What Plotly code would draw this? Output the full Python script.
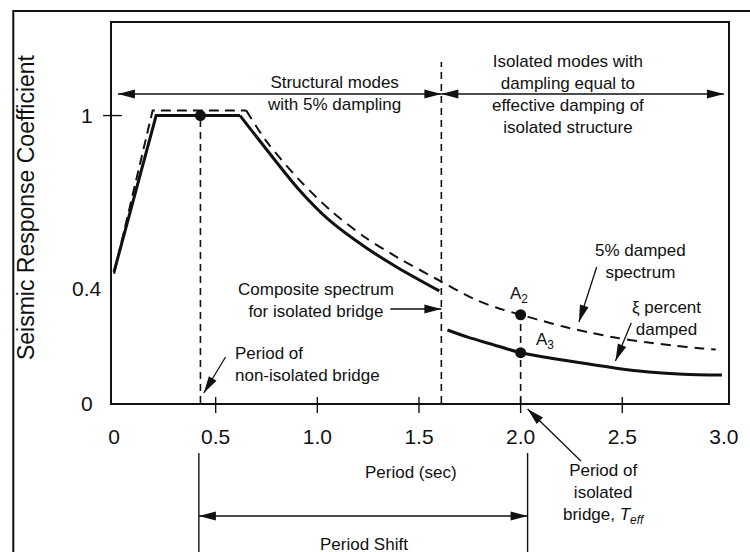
import math
import plotly.graph_objects as go

# ---------------- data ----------------
T_COMPOSITE = [0.0, 0.207, 0.62, 0.75, 0.91, 1.06, 1.24, 1.40, 1.60]
CS_COMPOSITE = [0.456, 1.0, 1.0, 0.882, 0.742, 0.635, 0.54, 0.469, 0.39]

T_5PCT = [0.0, 0.19, 0.65, 0.75, 0.91, 1.07, 1.24, 1.40, 1.58, 1.77, 1.88, 2.0,
          2.08, 2.21, 2.34, 2.47, 2.62, 2.75, 2.89, 2.96]
CS_5PCT = [0.45, 1.018, 1.018, 0.91, 0.777, 0.667, 0.574, 0.504, 0.434, 0.362,
           0.332, 0.307, 0.291, 0.266, 0.245, 0.227, 0.211, 0.200, 0.190, 0.186]

T_ISOLATED = [1.64, 1.74, 1.87, 2.0, 2.15, 2.31, 2.47, 2.63, 2.80, 2.99]
CS_ISOLATED = [0.254, 0.229, 0.202, 0.175, 0.156, 0.138, 0.121, 0.108, 0.100, 0.097]

T_NON_ISOLATED = 0.425
T_SPLIT = 1.61
T_EFF = 2.0
CS_PLATEAU = 1.0
CS_A2 = 0.307
CS_A3 = 0.175

X_TICKS = [0, 0.5, 1.0, 1.5, 2.0, 2.5, 3.0]
X_TICK_TEXT = ["0", "0.5", "1.0", "1.5", "2.0", "2.5", "3.0"]
X_TICK_MARKS = [0.5, 1.0, 1.5, 2.0, 2.5]
Y_TICKS = [0, 0.4, 1]
Y_TICK_TEXT = ["0", "0.4", "1"]
Y_TICK_MARKS = [1]

# ---------------- layout geometry ----------------
W, H = 750, 552
M = dict(l=112, r=14, t=23, b=149)
PW = W - M["l"] - M["r"]
PH = H - M["t"] - M["b"]
X_RANGE = [-0.01, 3.02]
Y_RANGE = [0.0, 1.322]
SX = PW / (X_RANGE[1] - X_RANGE[0])
SY = PH / (Y_RANGE[1] - Y_RANGE[0])

FONT = "Liberation Sans, Arial, sans-serif"
INK = "#111111"


def dx(px):  # pixel column -> data x
    return X_RANGE[0] + (px - M["l"]) / SX


def dy(py):  # pixel row -> data y
    return Y_RANGE[1] - (py - M["t"]) / SY


def py2paper(py):
    return (H - M["b"] - py) / PH


def px2paper(px):
    return (px - M["l"]) / PW


def y2paper(v):
    return (v - Y_RANGE[0]) / (Y_RANGE[1] - Y_RANGE[0])


shapes = []
annotations = []


def head(tx, ty, fx, fy, L=17, Wd=9):
    ddx = (tx - fx) * SX
    ddy = (ty - fy) * SY
    n = math.hypot(ddx, ddy)
    ux, uy = ddx / n, ddy / n
    bx, by = -L * ux, -L * uy
    nx, ny = -uy, ux
    p1 = (bx + Wd / 2 * nx, by + Wd / 2 * ny)
    p2 = (bx - Wd / 2 * nx, by - Wd / 2 * ny)
    path = "M0,0 L%.2f,%.2f L%.2f,%.2f Z" % (p1[0], p1[1], p2[0], p2[1])
    shapes.append(dict(type="path", xref="x", yref="paper", xsizemode="pixel",
                       ysizemode="pixel", xanchor=tx, yanchor=y2paper(ty),
                       path=path, fillcolor=INK, line=dict(width=0), layer="above"))


def arrow(x0, y0, x1, y1, both=False, w=1.3):
    shapes.append(dict(type="line", xref="x", yref="paper", x0=x0, x1=x1,
                       y0=y2paper(y0), y1=y2paper(y1),
                       line=dict(color=INK, width=w), layer="above"))
    head(x1, y1, x0, y0)
    if both:
        head(x0, y0, x1, y1)


def text(t, px, py, size=17, xanchor="center", align="center", angle=0):
    annotations.append(dict(text=t, xref="paper", yref="paper",
                            x=px2paper(px), y=py2paper(py), xanchor=xanchor,
                            yanchor="middle", align=align, showarrow=False,
                            textangle=angle,
                            font=dict(family=FONT, size=size, color=INK)))


fig = go.Figure()

# composite spectrum (solid): straight rise + plateau, then smooth decay
fig.add_trace(go.Scatter(x=T_COMPOSITE[:3], y=CS_COMPOSITE[:3], mode="lines",
                         line=dict(color=INK, width=3), hoverinfo="skip"))
fig.add_trace(go.Scatter(x=T_COMPOSITE[2:], y=CS_COMPOSITE[2:], mode="lines",
                         line=dict(color=INK, width=3, shape="spline", smoothing=0.8),
                         hoverinfo="skip"))
# 5% damped spectrum (dashed)
fig.add_trace(go.Scatter(x=T_5PCT[:3], y=CS_5PCT[:3], mode="lines",
                         line=dict(color=INK, width=2, dash="10px,6px"), hoverinfo="skip"))
fig.add_trace(go.Scatter(x=T_5PCT[2:], y=CS_5PCT[2:], mode="lines",
                         line=dict(color=INK, width=2, dash="10px,7px", shape="spline",
                                   smoothing=0.8), hoverinfo="skip"))
# isolated part (solid)
fig.add_trace(go.Scatter(x=T_ISOLATED, y=CS_ISOLATED, mode="lines",
                         line=dict(color=INK, width=3, shape="spline", smoothing=0.8),
                         hoverinfo="skip"))

# vertical dashed guide lines
for xv, ytop in [(T_NON_ISOLATED, CS_PLATEAU), (T_SPLIT, dy(62)), (T_EFF, CS_A2)]:
    shapes.append(dict(type="line", xref="x", yref="y", x0=xv, x1=xv, y0=0, y1=ytop,
                       line=dict(color=INK, width=1.6, dash="7px,5px")))

# points
fig.add_trace(go.Scatter(x=[T_NON_ISOLATED, T_EFF, T_EFF], y=[CS_PLATEAU, CS_A2, CS_A3],
                         mode="markers", marker=dict(color=INK, size=11),
                         cliponaxis=False, hoverinfo="skip"))

# tick marks
for xv in X_TICK_MARKS:
    shapes.append(dict(type="line", xref="x", yref="paper", x0=xv, x1=xv,
                       y0=py2paper(397), y1=py2paper(413),
                       line=dict(color=INK, width=1.4)))
for yv in Y_TICK_MARKS:
    shapes.append(dict(type="line", xref="paper", yref="y", x0=px2paper(103),
                       x1=px2paper(122), y0=yv, y1=yv, line=dict(color=INK, width=1.4)))

# outer frame
shapes.append(dict(type="rect", xref="paper", yref="paper", x0=px2paper(12),
                   x1=px2paper(770), y0=py2paper(575), y1=py2paper(11),
                   line=dict(color=INK, width=2), fillcolor="rgba(0,0,0,0)"))

# region arrows
y_top = dy(94)
arrow(dx(118), y_top, T_SPLIT, y_top, both=True)
arrow(T_SPLIT, y_top, 3.0, y_top, both=True)
# pointer arrows
arrow(dx(603), dy(267), dx(585), dy(322))
arrow(dx(638), dy(323), dx(622), dy(361))
arrow(dx(394), dy(309), T_SPLIT, dy(309))
arrow(dx(227), dy(357), dx(205), dy(393))
arrow(dx(587), dy(461), dx(533), dy(409))
# period shift
for px in (200, 533):
    shapes.append(dict(type="line", xref="x", yref="paper", x0=dx(px), x1=dx(px),
                       y0=py2paper(453), y1=py2paper(600), line=dict(color=INK, width=1.4)))
arrow(dx(200), dy(516), dx(533), dy(516), both=True)

# texts
text("Structural modes<br>with 5% dampling", 337, 93.5)
text("Isolated modes with<br>dampling equal to<br>effective damping of<br>isolated structure", 574, 94)
text("5% damped<br>spectrum", 647, 261)
text("ξ percent<br>damped", 674, 318)
text("A<sub>2</sub>", 524, 295)
text("A<sub>3</sub>", 551, 341)
text("Composite spectrum<br>for isolated bridge", 319, 300)
text("Period of<br>non-isolated bridge", 235, 364, xanchor="left", align="left")
text("Period (sec)", 415, 472)
text("Period of<br>isolated<br>bridge, <i>T<sub>eff</sub></i>", 610, 494)
text("Period Shift", 367, 544)
text("Seismic Response Coefficient", 25, 207, size=23, angle=-90)
for yv, lab in zip(Y_TICKS, Y_TICK_TEXT):
    annotations.append(dict(text=lab, xref="paper", yref="y", x=px2paper(87), y=yv,
                            xanchor="center", yanchor="middle", showarrow=False,
                            font=dict(family=FONT, size=21, color=INK)))

fig.update_layout(
    width=W, height=H, margin=M, showlegend=False,
    paper_bgcolor="white", plot_bgcolor="white",
    shapes=shapes, annotations=annotations,
    xaxis=dict(range=X_RANGE, tickvals=X_TICKS, ticktext=X_TICK_TEXT, ticks="",
               showline=True, mirror=True, linecolor=INK, linewidth=1.6,
               showgrid=False, zeroline=False, ticklabelstandoff=14,
               tickfont=dict(family=FONT, size=21, color=INK)),
    yaxis=dict(range=Y_RANGE, tickvals=Y_TICKS, showticklabels=False, ticks="",
               showline=True, mirror=True, linecolor=INK, linewidth=1.6,
               showgrid=False, zeroline=False),
)

fig.write_html("out.html", config={"displayModeBar": False},
               post_script="document.body.style.margin='0';document.body.style.padding='0';")
